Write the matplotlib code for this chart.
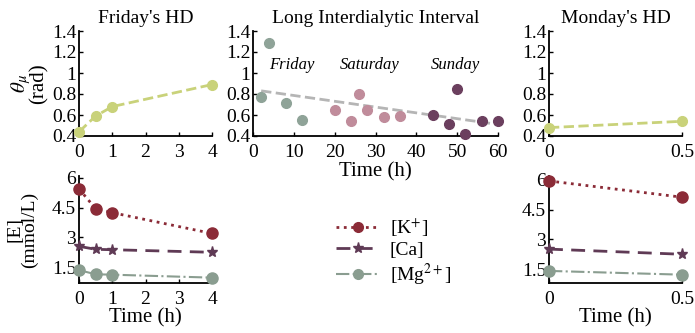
"""Phase angle and electrolytes across the long interdialytic interval."""

import matplotlib.pyplot as plt
from matplotlib.lines import Line2D

plt.rcParams["font.family"] = ["Liberation Serif", "DejaVu Serif"]
plt.rcParams["mathtext.fontset"] = "stix"

# top row: phase angle theta_mu (rad)
fri_hd_t = [0, 0.5, 1, 4]
fri_hd_theta = [0.44, 0.59, 0.68, 0.89]
mon_hd_t = [0, 0.5]
mon_hd_theta = [0.48, 0.54]

lii_fri_t = [2, 4, 8, 12]
lii_fri_theta = [0.77, 1.29, 0.71, 0.55]
lii_sat_t = [20, 24, 26, 28, 32, 36]
lii_sat_theta = [0.65, 0.54, 0.80, 0.65, 0.58, 0.59]
lii_sun_t = [44, 48, 50, 52, 56, 60]
lii_sun_theta = [0.60, 0.51, 0.85, 0.42, 0.54, 0.54]
trend_t = [2, 60]
trend_theta = [0.83, 0.51]
day_labels = ["Friday", "Saturday", "Sunday"]
day_label_t = [9.5, 28.6, 49.6]

# bottom row: electrolytes (mmol/L)
fri_k = [5.45, 4.45, 4.25, 3.2]
fri_ca = [2.55, 2.4, 2.38, 2.25]
fri_mg = [1.35, 1.14, 1.12, 0.97]
mon_k = [5.95, 5.13]
mon_ca = [2.51, 2.25]
mon_mg = [1.41, 1.22]

c_hd = "#c9d27a"
c_fri = "#8fa398"
c_sat = "#c08c9b"
c_sun = "#6b3f5e"
c_k = "#8b2b37"
c_ca = "#5f3a55"
c_mg = "#8a9d90"

fig = plt.figure(figsize=(6.95, 3.33), dpi=100)
W, H = 695, 333


def add_ax(x0, x1, ytop, ybot):
    ax = fig.add_axes([x0 / W, 1 - ybot / H, (x1 - x0) / W, (ybot - ytop) / H])
    for side in ("top", "right"):
        ax.spines[side].set_visible(False)
    ax.spines["left"].set_linewidth(1.3)
    ax.spines["bottom"].set_linewidth(1.3)
    ax.tick_params(direction="in", labelsize=14, length=3, width=1)
    ax.tick_params(axis="x", pad=6)
    ax.tick_params(axis="y", pad=2)
    return ax


ax_f = add_ax(79, 212, 31, 136)
ax_l = add_ax(253, 498, 31, 136)
ax_m = add_ax(549, 682, 31, 136)
bx_f = add_ax(79, 212, 176, 283)
bx_m = add_ax(549, 682, 176, 283)

yt = [0.4, 0.6, 0.8, 1, 1.2, 1.4]
ytl = ["0.4", "0.6", "0.8", "1", "1.2", "1.4"]
for ax in (ax_f, ax_l, ax_m):
    ax.set_ylim(0.4, 1.4)
    ax.set_yticks(yt)
    ax.set_yticklabels(ytl)

ax_f.plot(fri_hd_t, fri_hd_theta, "--o", color=c_hd, lw=2, ms=7, clip_on=False, zorder=3)
ax_f.set_xlim(0, 4)
ax_f.set_xticks([0, 1, 2, 3, 4])
ax_f.set_title("Friday's HD", fontsize=14, pad=6)
ax_f.set_ylabel("$\\theta_\\mu$\n(rad)", fontsize=15, labelpad=2, linespacing=0.8)

ax_l.plot(trend_t, trend_theta, "--", color="#b5b5b5", lw=2, zorder=2)
ax_l.plot(lii_fri_t, lii_fri_theta, "o", color=c_fri, ms=7, clip_on=False, zorder=3)
ax_l.plot(lii_sat_t, lii_sat_theta, "o", color=c_sat, ms=7, clip_on=False, zorder=3)
ax_l.plot(lii_sun_t, lii_sun_theta, "o", color=c_sun, ms=7, clip_on=False, zorder=3)
for lab, t in zip(day_labels, day_label_t):
    ax_l.text(t, 1.08, lab, style="italic", fontsize=12, ha="center", va="center")
ax_l.set_xlim(0, 60)
ax_l.set_xticks([0, 10, 20, 30, 40, 50, 60])
ax_l.set_title("Long Interdialytic Interval", fontsize=14, pad=6)
ax_l.set_xlabel("Time (h)", fontsize=15, labelpad=1)

ax_m.plot(mon_hd_t, mon_hd_theta, "--o", color=c_hd, lw=2, ms=7, clip_on=False, zorder=3)
ax_m.set_xlim(0, 0.5)
ax_m.set_xticks([0, 0.5])
ax_m.set_xticklabels(["0", "0.5"])
ax_m.set_title("Monday's HD", fontsize=14, pad=6)

yb = [1.5, 3, 4.5, 6]
ybl = ["1.5", "3", "4.5", "6"]
for ax, k, ca, mg, t in ((bx_f, fri_k, fri_ca, fri_mg, fri_hd_t), (bx_m, mon_k, mon_ca, mon_mg, mon_hd_t)):
    ax.plot(t, k, ":o", color=c_k, lw=2, ms=8, clip_on=False, zorder=3)
    ax.plot(t, ca, "--*", color=c_ca, lw=2, ms=8, dashes=(5, 3), clip_on=False, zorder=3)
    ax.plot(t, mg, "-.o", color=c_mg, lw=1.5, ms=8, clip_on=False, zorder=3)
    ax.set_yticks(yb)
    ax.set_yticklabels(ybl)
    ax.set_xlabel("Time (h)", fontsize=15, labelpad=0)

bx_f.set_ylim(0.7, 6.1)
bx_f.set_xlim(0, 4)
bx_f.set_xticks([0, 1, 2, 3, 4])
bx_f.set_ylabel("[E]\n(mmol/L)", fontsize=14, labelpad=10, linespacing=0.8)
bx_m.set_ylim(0.8, 6.2)
bx_m.set_xlim(0, 0.5)
bx_m.set_xticks([0, 0.5])
bx_m.set_xticklabels(["0", "0.5"])

handles = [
    Line2D([], [], ls=":", marker="o", color=c_k, lw=2, ms=7),
    Line2D([], [], ls="--", marker="*", color=c_ca, lw=2, ms=8, dashes=(5, 3)),
    Line2D([], [], ls="-.", marker="o", color=c_mg, lw=1.5, ms=7),
]
labels = ["[K$^{+}$]", "[Ca]", "[Mg$^{2+}$]"]
fig.legend(handles, labels, loc="center left", bbox_to_anchor=(318 / W, 1 - 252 / H),
           frameon=False, fontsize=14, handlelength=2.3, labelspacing=0.15, handletextpad=0.5)

fig.savefig("out.png", dpi=100)
